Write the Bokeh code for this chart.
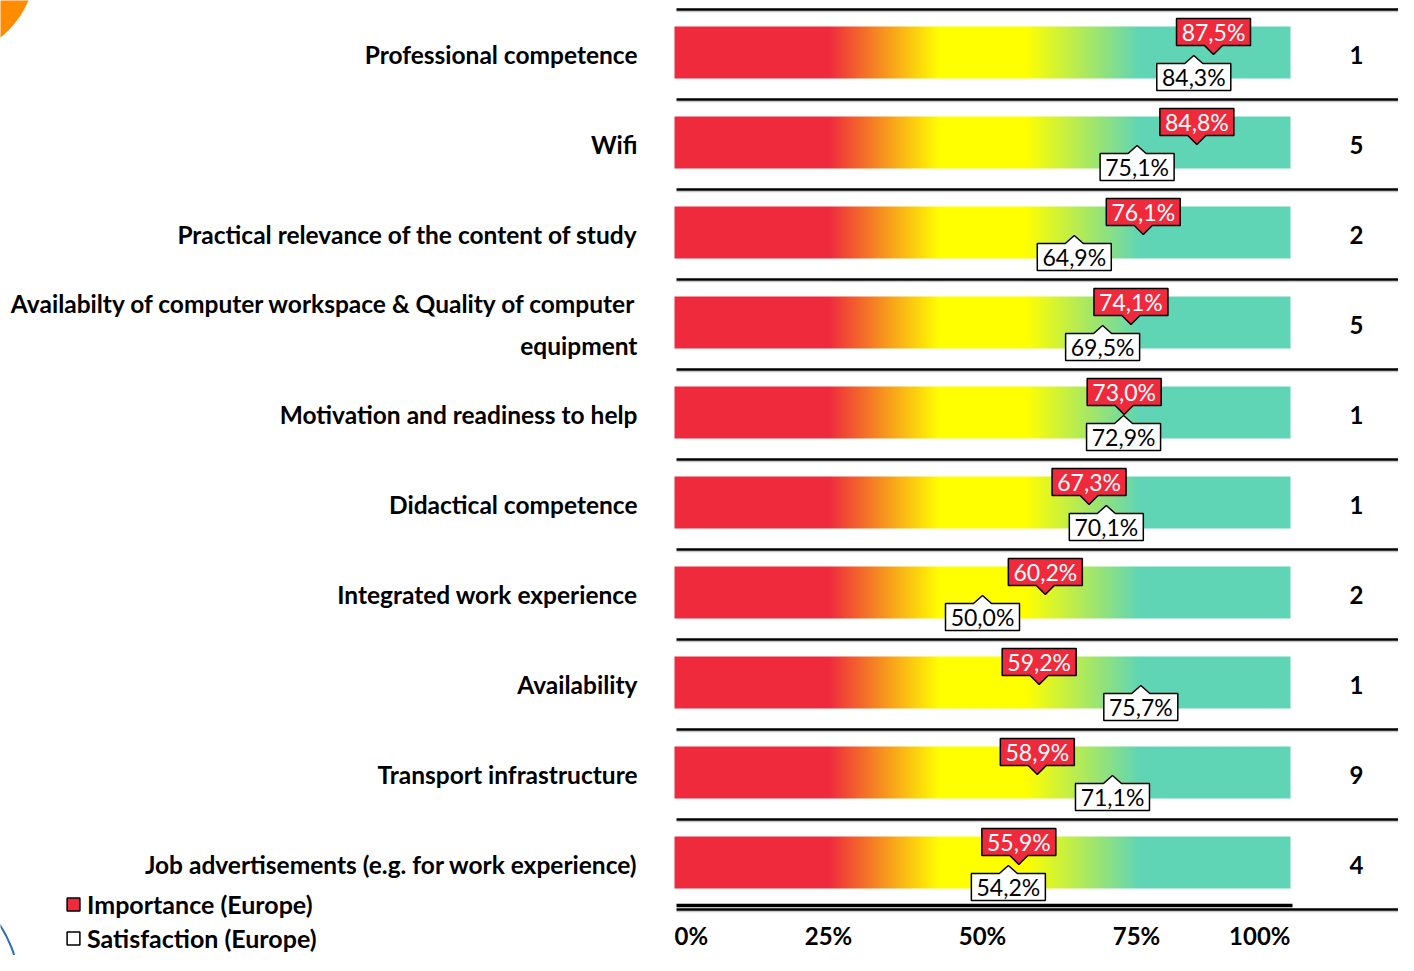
import numpy as np
from bokeh.plotting import figure
from bokeh.models import Range1d, Legend, LegendItem
from bokeh.core.properties import value
from bokeh.embed import file_html
from bokeh.resources import INLINE

# ---------------- data ----------------
categories = [
    "Professional competence",
    "Wifi",
    "Practical relevance of the content of study",
    "Availabilty of computer workspace & Quality of computer\nequipment",
    "Motivation and readiness to help",
    "Didactical competence",
    "Integrated work experience",
    "Availability",
    "Transport infrastructure",
    "Job advertisements (e.g. for work experience)",
]
importance = [87.5, 84.8, 76.1, 74.1, 73.0, 67.3, 60.2, 59.2, 58.9, 55.9]
satisfaction = [84.3, 75.1, 64.9, 69.5, 72.9, 70.1, 50.0, 75.7, 71.1, 54.2]
ranks = ["1", "5", "2", "5", "1", "1", "2", "1", "9", "4"]
tick_values = [0, 25, 50, 75, 100]
tick_labels = ["0%", "25%", "50%", "75%", "100%"]
legend_labels = ["Importance (Europe)", "Satisfaction (Europe)"]

# gradient of the scale bar (stops in %)
gradient_stops = [0, 25, 43, 57, 75.5, 100]
gradient_colors = [(238, 42, 60), (238, 42, 60), (255, 255, 0), (255, 255, 0), (95, 213, 181), (95, 213, 181)]

RED = "#EE2A3C"
FONT = "Lato"

# ---------------- geometry ----------------
W, H = 1398, 955
SX = 6.16      # px per percent
SY = 90.0      # px per row
X0 = 674       # px position of 0 % inside the frame
Y0 = 54        # px position of first row centre inside the frame

x_start = -X0 / SX
x_end = x_start + W / SX
y_top = Y0 / SY
y_bottom = y_top - H / SY


def dx(px):
    return px / SX


def dy(px):  # px downward -> data offset
    return -px / SY


def ref_x(px):  # canvas pixel -> data x
    return (px - X0) / SX


def ref_y(px):  # canvas pixel -> data y
    return y_top - px / SY


n = len(categories)
rows = [-i for i in range(n)]

p = figure(width=W, height=H, x_range=Range1d(x_start, x_end), y_range=Range1d(y_bottom, y_top),
           output_backend="svg", toolbar_location=None, min_border=0,
           x_axis_type=None, y_axis_type=None, outline_line_color=None,
           background_fill_color="white", border_fill_color="white")
p.grid.visible = False

# decorations in the corners
p.circle(x=[ref_x(-60)], y=[ref_y(-37.5)], radius=95.7, radius_units="screen",
         fill_color="#FF8C00", line_color=None)
p.circle(x=[ref_x(-100)], y=[ref_y(990)], radius=119, radius_units="screen",
         fill_color=None, line_color="#2E6DB4", line_width=2)

# row separators
seps = [r + 0.5 for r in rows] + [rows[-1] - 0.5]
p.segment(x0=dx(2), y0=[s + dy(2) for s in seps], x1=x_end, y1=[s + dy(2) for s in seps],
          line_color="#C8C8C8", line_width=1.5)
p.segment(x0=dx(2), y0=seps, x1=x_end, y1=seps, line_color="black", line_width=2.5)
# axis line under last row
p.segment(x0=[dx(2)], y0=[seps[-1] + dy(-4)], x1=[100 + dx(2)], y1=[seps[-1] + dy(-4)],
          line_color="black", line_width=3.5)

# gradient bars
ncol = 1232
gx = np.linspace(0, 100, ncol)
img = np.empty((1, ncol), dtype=np.uint32)
view = img.view(dtype=np.uint8).reshape((1, ncol, 4))
for c in range(3):
    view[0, :, c] = np.round(np.interp(gx, gradient_stops, [col[c] for col in gradient_colors])).astype(np.uint8)
view[0, :, 3] = 255
p.image_rgba(image=[img] * n, x=[0] * n, y=[r + dy(24) for r in rows], dw=[100] * n, dh=[52 / SY] * n)

# callouts
hw, pw = dx(37), dx(9)
imp_xs, imp_ys, sat_xs, sat_ys = [], [], [], []
for r, vi, vs in zip(rows, importance, satisfaction):
    top, bot, tip = r + dy(-36), r + dy(-9), r + dy(0)
    imp_xs.append([vi - hw, vi + hw, vi + hw, vi + pw, vi, vi - pw, vi - hw])
    imp_ys.append([top, top, bot, bot, tip, bot, bot])
    btop, bbot, btip = r + dy(9), r + dy(36), r + dy(1)
    sat_xs.append([vs - hw, vs - pw, vs, vs + pw, vs + hw, vs + hw, vs - hw])
    sat_ys.append([btop, btop, btip, btop, btop, bbot, bbot])

imp_r = p.patches(imp_xs, imp_ys, fill_color=RED, line_color="black", line_width=1.5)
sat_r = p.patches(sat_xs, sat_ys, fill_color="white", line_color="black", line_width=1.5)


def fmt(v):
    return f"{v:.1f}".replace(".", ",") + "%"


p.text(x=importance, y=[r + dy(-22.5) for r in rows], text=[fmt(v) for v in importance],
       text_color="white", text_font=value(FONT), text_font_size="23px",
       text_align="center", text_baseline="middle")
p.text(x=satisfaction, y=[r + dy(22.5) for r in rows], text=[fmt(v) for v in satisfaction],
       text_color="black", text_font=value(FONT), text_font_size="23px",
       text_align="center", text_baseline="middle")

# category labels
p.text(x=[dx(-37)] * n, y=rows, text=categories, text_color="black", text_font=value(FONT),
       text_font_size="24.5px", text_font_style="bold", text_align="right", text_baseline="middle",
       text_line_height=1.45)

# ranks
p.text(x=[100 + dx(66)] * n, y=rows, text=ranks, text_color="black", text_font=value(FONT),
       text_font_size="24px", text_font_style="bold", text_align="center", text_baseline="middle")

# tick labels
ty = rows[-1] + dy(71)
aligns = ["left"] + ["center"] * (len(tick_values) - 2) + ["right"]
for tv, tl, al in zip(tick_values, tick_labels, aligns):
    p.text(x=[tv], y=[ty], text=[tl], text_color="black", text_font=value(FONT),
           text_font_size="24px", text_font_style="bold", text_align=al, text_baseline="middle")

# legend
legend = Legend(items=[LegendItem(label=legend_labels[0], renderers=[imp_r]),
                       LegendItem(label=legend_labels[1], renderers=[sat_r])],
                location=(65, 2), orientation="vertical",
                border_line_color=None, background_fill_alpha=0, padding=0, margin=0,
                glyph_width=16, glyph_height=16, label_standoff=6, spacing=4, label_height=30,
                label_text_font=FONT, label_text_font_style="bold", label_text_font_size="25px",
                label_text_color="black")
p.add_layout(legend)

open("out.html", "w").write(file_html(p, INLINE))
